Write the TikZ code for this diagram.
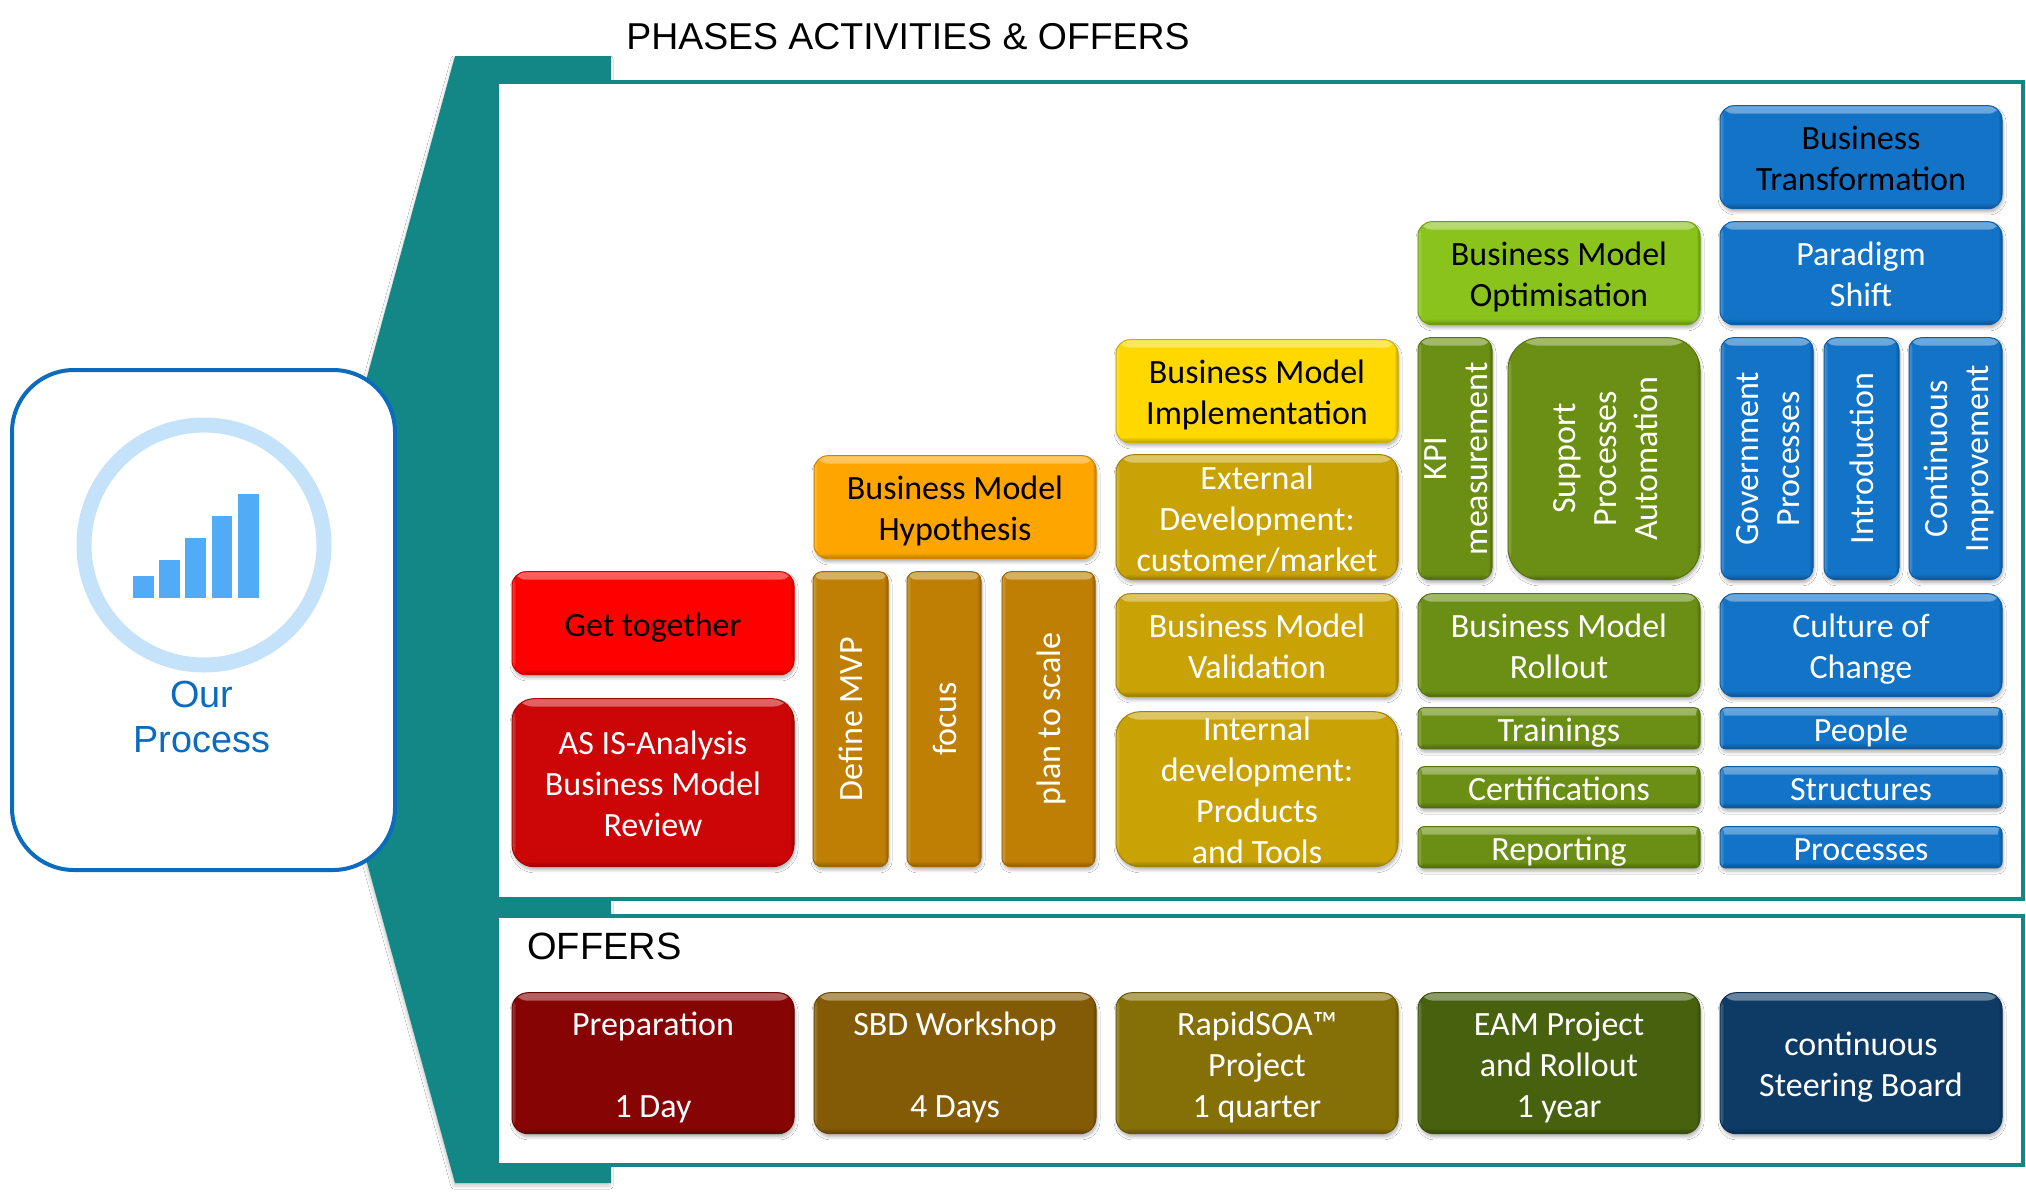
\documentclass[tikz,border=0pt]{standalone}
\usepackage{fontspec}
\usepackage{graphicx}
\setmainfont{Carlito}
\newfontfamily\headfont{Liberation Sans}
\usetikzlibrary{shadows.blur}
\definecolor{teal}{HTML}{138785}
\definecolor{ourblue}{HTML}{0B6BBE}
\definecolor{ringblue}{HTML}{C4E3FB}
\definecolor{barblue}{HTML}{52ABF6}
\definecolor{hotred}{HTML}{FF0000}
\definecolor{midred}{HTML}{CC0606}
\definecolor{orange}{HTML}{FFA500}
\definecolor{brown}{HTML}{BF7F04}
\definecolor{yellow}{HTML}{FFD800}
\definecolor{mustard}{HTML}{C9A306}
\definecolor{lime}{HTML}{8AC31B}
\definecolor{moss}{HTML}{6A8F14}
\definecolor{blue}{HTML}{1273C7}
\definecolor{offerred}{HTML}{870404}
\definecolor{offerbrown}{HTML}{835A05}
\definecolor{offerolive}{HTML}{857008}
\definecolor{offergreen}{HTML}{47610F}
\definecolor{offerblue}{HTML}{0D3B66}
\newcommand{\uptext}[1]{\makebox[0pt]{\hspace{4pt}\rotatebox{90}{\begin{tabular}{@{}c@{}}#1\end{tabular}}}}
\newcommand{\boxlines}[1]{\raisebox{-2.4pt}[\height][\depth]{\begin{tabular}{@{}c@{}}#1\end{tabular}}}
\begin{document}
\begin{tikzpicture}[x=0.5pt,y=-0.5pt,
  head/.style={font=\headfont\fontsize{19}{22.5}\selectfont,inner sep=0pt},
  panel/.style={draw=teal,line width=2pt,fill=white},
  gbox/.style={anchor=north west,inner sep=0pt,rounded corners=7pt,
    font=\fontsize{17}{20.6}\selectfont,text=white,fill=#1,draw=#1!80!black,line width=0.5pt,
    blur shadow={shadow xshift=0.5pt,shadow yshift=-1.6pt,shadow blur radius=1.5pt,shadow blur steps=6,shadow opacity=30},
    path picture={
      \shade[top color=#1!62!white,bottom color=#1]
        (path picture bounding box.north west) rectangle ([yshift=-4pt]path picture bounding box.north east);
      \shade[top color=#1,bottom color=#1!72!black]
        ([yshift=3pt]path picture bounding box.south west) rectangle (path picture bounding box.south east);
      \shade[left color=#1!75!white,right color=#1]
        (path picture bounding box.north west) rectangle ([xshift=2pt]path picture bounding box.south west);
      \shade[left color=#1,right color=#1!75!black]
        ([xshift=-2pt]path picture bounding box.north east) rectangle (path picture bounding box.south east);
    }},
  wide/.style={minimum width=141pt},
  tall/.style={minimum height=51.5pt},
  thin/.style={minimum height=20.5pt,rounded corners=3pt},
  post/.style={minimum height=147.5pt},
  offer/.style={minimum height=70.5pt,minimum width=141pt,rounded corners=8pt}]
  \path[use as bounding box,fill=white] (0,0) rectangle (2026,1195);
  \fill[teal,blur shadow={shadow xshift=-0.5pt,shadow yshift=-1.5pt,shadow blur radius=1.5pt,shadow blur steps=6,shadow opacity=20}]
    (455,56)--(611,56)--(611,1183)--(455,1183)--(347,790)--(347,450)--cycle;
  \draw[panel] (497,82) rectangle (2023,899);
  \draw[panel] (497,916) rectangle (2023,1165);
  \node[head,anchor=west,font=\headfont\fontsize{18.7}{22.5}\selectfont] (title) at (626,37) {PHASES ACTIVITIES \& OFFERS};
  \node[head,anchor=west] (offers) at (527,946) {OFFERS};
  \draw[draw=ourblue,line width=2pt,fill=white,rounded corners=31pt] (12,370) rectangle (395,870);
  \draw[ringblue,line width=7.5pt] (204,545) circle[radius=120];
  \fill[barblue] (133,576) rectangle (154,597.5);
  \fill[barblue] (159,560) rectangle (180,597.5);
  \fill[barblue] (185,537.5) rectangle (206,597.5);
  \fill[barblue] (212,516) rectangle (232,597.5);
  \fill[barblue] (238,494) rectangle (259,597.5);
  \node[head,text=ourblue,align=center,font=\headfont\fontsize{18.9}{22.6}\selectfont] (process) at (202,717) {Our\\Process};
  \begin{scope}[xshift=-0.75pt,yshift=0.4pt]
  % first phase
  \node[gbox=hotred,wide,tall,text=black] (together) at (513,572) {\boxlines{Get together}};
  \node[gbox=midred,wide,minimum height=84pt,rounded corners=11pt] (asis) at (513,699) {\boxlines{AS IS-Analysis\\Business Model\\Review}};
  % second phase
  \node[gbox=orange,wide,tall,text=black] (hypothesis) at (815,456) {\boxlines{Business Model\\Hypothesis}};
  \node[gbox=brown,post,minimum width=37.5pt,rounded corners=4.5pt] (mvp) at (814,572) {\uptext{Define MVP}};
  \node[gbox=brown,post,minimum width=37pt,rounded corners=4.5pt] (focus) at (908,572) {\uptext{focus}};
  \node[gbox=brown,post,minimum width=46.5pt,rounded corners=4.5pt] (scale) at (1003,572) {\uptext{plan to scale}};
  % third phase
  \node[gbox=yellow,wide,tall,text=black] (implementation) at (1117,340) {\boxlines{Business Model\\Implementation}};
  \node[gbox=mustard,wide,minimum height=62.5pt,rounded corners=9pt] (external) at (1117,455) {\boxlines{External\\Development:\\customer/market}};
  \node[gbox=mustard,wide,tall] (validation) at (1117,594) {\boxlines{Business Model\\Validation}};
  \node[gbox=mustard,wide,minimum height=77.5pt,rounded corners=12pt,text height=42.5pt,text depth=34pt] (internal) at (1117,712) {\boxlines{Internal\\development:\\Products\\and Tools}};
  % fourth phase
  \node[gbox=lime,wide,tall,text=black] (optimisation) at (1419,222) {\boxlines{Business Model\\Optimisation}};
  \node[gbox=moss,minimum width=37pt,minimum height=121pt,rounded corners=6pt] (kpi) at (1419,338) {\uptext{KPI\\measurement}};
  \node[gbox=moss,minimum width=96pt,minimum height=121pt,rounded corners=16pt] (support) at (1509,338) {\uptext{Support\\Processes\\Automation}};
  \node[gbox=moss,wide,tall] (rollout) at (1419,594) {\boxlines{Business Model\\Rollout}};
  \node[gbox=moss,wide,thin] (trainings) at (1419,708) {\boxlines{Trainings}};
  \node[gbox=moss,wide,thin] (certifications) at (1419,767) {\boxlines{Certifications}};
  \node[gbox=moss,wide,thin] (reporting) at (1419,827) {\boxlines{Reporting}};
  % fifth phase
  \node[gbox=blue,wide,tall,text=black] (transformation) at (1721,106) {\boxlines{Business\\Transformation}};
  \node[gbox=blue,wide,tall] (paradigm) at (1721,222) {\boxlines{Paradigm\\Shift}};
  \node[gbox=blue,minimum width=46pt,minimum height=121pt,rounded corners=6pt] (government) at (1722,338) {\uptext{Government\\Processes}};
  \node[gbox=blue,minimum width=37.5pt,minimum height=121pt,rounded corners=6pt] (introduction) at (1825,338) {\uptext{Introduction}};
  \node[gbox=blue,minimum width=46.5pt,minimum height=121pt,rounded corners=6pt] (continuous) at (1910,338) {\uptext{Continuous\\Improvement}};
  \node[gbox=blue,wide,tall] (culture) at (1721,594) {\boxlines{Culture of\\Change}};
  \node[gbox=blue,wide,thin] (people) at (1721,708) {\boxlines{People}};
  \node[gbox=blue,wide,thin] (structures) at (1721,767) {\boxlines{Structures}};
  \node[gbox=blue,wide,thin] (processes) at (1721,827) {\boxlines{Processes}};
  % offers
  \node[gbox=offerred,offer] (preparation) at (513,993) {\boxlines{Preparation\\ \\1 Day}};
  \node[gbox=offerbrown,offer] (workshop) at (815,993) {\boxlines{SBD Workshop\\ \\4 Days}};
  \node[gbox=offerolive,offer] (rapidsoa) at (1117,993) {\boxlines{RapidSOA™\\Project\\1 quarter}};
  \node[gbox=offergreen,offer] (eam) at (1419,993) {\boxlines{EAM Project\\and Rollout\\1 year}};
  \node[gbox=offerblue,offer] (board) at (1721,993) {\boxlines{continuous\\Steering Board}};
  \end{scope}
\end{tikzpicture}
\end{document}
